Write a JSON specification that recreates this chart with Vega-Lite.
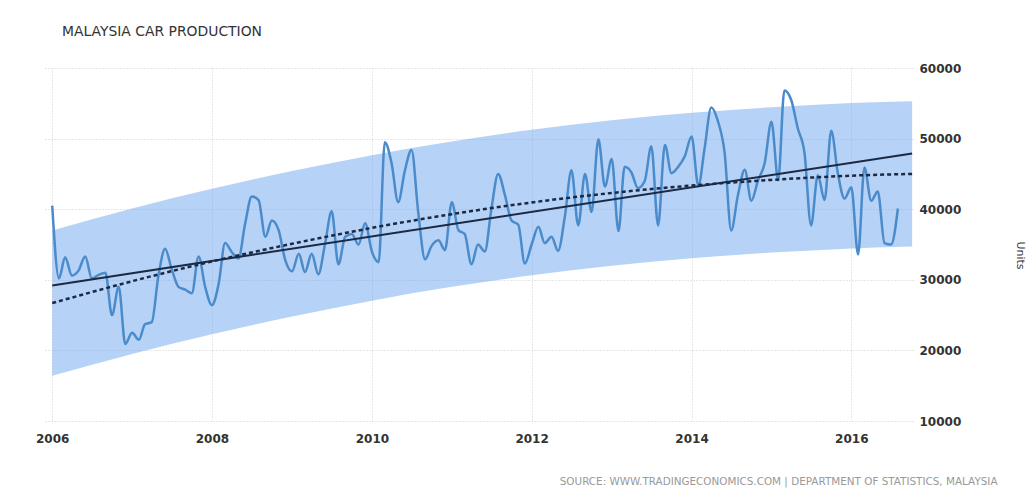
{
  "$schema": "https://vega.github.io/schema/vega-lite/v6.json",
  "width": 868,
  "height": 353,
  "autosize": {"type": "none"},
  "padding": {"left": 45, "top": 68, "right": 123, "bottom": 77},
  "background": "white",
  "title": {
    "text": "MALAYSIA CAR PRODUCTION",
    "anchor": "start",
    "frame": "group",
    "offset": 12,
    "baseline": "alphabetic",
    "dx": 17,
    "font": "DejaVu Sans",
    "fontSize": 13.9,
    "fontWeight": "normal",
    "color": "#333333"
  },
  "config": {
    "view": {"stroke": null},
    "axis": {
      "domain": false,
      "ticks": false,
      "gridColor": "#cfcfcf",
      "gridDash": [1, 2],
      "gridWidth": 1,
      "labelFont": "DejaVu Sans",
      "labelFontSize": 12,
      "labelFontWeight": "bold",
      "labelColor": "#333333",
      "titleFont": "DejaVu Sans"
    }
  },
  "datasets": {
    "production": [
      {"date": "2006-01-01", "value": 40500},
      {"date": "2006-02-01", "value": 30200},
      {"date": "2006-03-01", "value": 33200},
      {"date": "2006-04-01", "value": 30600},
      {"date": "2006-05-01", "value": 31300},
      {"date": "2006-06-01", "value": 33300},
      {"date": "2006-07-01", "value": 30200},
      {"date": "2006-08-01", "value": 30700},
      {"date": "2006-09-01", "value": 31000},
      {"date": "2006-10-01", "value": 25000},
      {"date": "2006-11-01", "value": 29000},
      {"date": "2006-12-01", "value": 20900},
      {"date": "2007-01-01", "value": 22500},
      {"date": "2007-02-01", "value": 21500},
      {"date": "2007-03-01", "value": 23700},
      {"date": "2007-04-01", "value": 24000},
      {"date": "2007-05-01", "value": 30500},
      {"date": "2007-06-01", "value": 34400},
      {"date": "2007-07-01", "value": 31500},
      {"date": "2007-08-01", "value": 29000},
      {"date": "2007-09-01", "value": 28600},
      {"date": "2007-10-01", "value": 28100},
      {"date": "2007-11-01", "value": 33300},
      {"date": "2007-12-01", "value": 29000},
      {"date": "2008-01-01", "value": 26400},
      {"date": "2008-02-01", "value": 29500},
      {"date": "2008-03-01", "value": 35200},
      {"date": "2008-04-01", "value": 33900},
      {"date": "2008-05-01", "value": 33000},
      {"date": "2008-06-01", "value": 38000},
      {"date": "2008-07-01", "value": 41800},
      {"date": "2008-08-01", "value": 41300},
      {"date": "2008-09-01", "value": 36100},
      {"date": "2008-10-01", "value": 38400},
      {"date": "2008-11-01", "value": 37000},
      {"date": "2008-12-01", "value": 32800},
      {"date": "2009-01-01", "value": 31200},
      {"date": "2009-02-01", "value": 33700},
      {"date": "2009-03-01", "value": 31100},
      {"date": "2009-04-01", "value": 33700},
      {"date": "2009-05-01", "value": 30800},
      {"date": "2009-06-01", "value": 35100},
      {"date": "2009-07-01", "value": 39700},
      {"date": "2009-08-01", "value": 32200},
      {"date": "2009-09-01", "value": 36100},
      {"date": "2009-10-01", "value": 36500},
      {"date": "2009-11-01", "value": 35000},
      {"date": "2009-12-01", "value": 38000},
      {"date": "2010-01-01", "value": 34000},
      {"date": "2010-02-01", "value": 32500},
      {"date": "2010-03-01", "value": 49500},
      {"date": "2010-04-01", "value": 46500},
      {"date": "2010-05-01", "value": 41000},
      {"date": "2010-06-01", "value": 45500},
      {"date": "2010-07-01", "value": 48400},
      {"date": "2010-08-01", "value": 39500},
      {"date": "2010-09-01", "value": 32900},
      {"date": "2010-10-01", "value": 34800},
      {"date": "2010-11-01", "value": 35600},
      {"date": "2010-12-01", "value": 34200},
      {"date": "2011-01-01", "value": 41000},
      {"date": "2011-02-01", "value": 37000},
      {"date": "2011-03-01", "value": 36500},
      {"date": "2011-04-01", "value": 32200},
      {"date": "2011-05-01", "value": 35000},
      {"date": "2011-06-01", "value": 34000},
      {"date": "2011-07-01", "value": 40000},
      {"date": "2011-08-01", "value": 45000},
      {"date": "2011-09-01", "value": 42000},
      {"date": "2011-10-01", "value": 38400},
      {"date": "2011-11-01", "value": 37800},
      {"date": "2011-12-01", "value": 32300},
      {"date": "2012-01-01", "value": 35000},
      {"date": "2012-02-01", "value": 37500},
      {"date": "2012-03-01", "value": 35200},
      {"date": "2012-04-01", "value": 36100},
      {"date": "2012-05-01", "value": 34100},
      {"date": "2012-06-01", "value": 39000},
      {"date": "2012-07-01", "value": 45500},
      {"date": "2012-08-01", "value": 37700},
      {"date": "2012-09-01", "value": 45000},
      {"date": "2012-10-01", "value": 39600},
      {"date": "2012-11-01", "value": 49900},
      {"date": "2012-12-01", "value": 43200},
      {"date": "2013-01-01", "value": 47100},
      {"date": "2013-02-01", "value": 36900},
      {"date": "2013-03-01", "value": 46000},
      {"date": "2013-04-01", "value": 45200},
      {"date": "2013-05-01", "value": 43000},
      {"date": "2013-06-01", "value": 44000},
      {"date": "2013-07-01", "value": 48900},
      {"date": "2013-08-01", "value": 37700},
      {"date": "2013-09-01", "value": 49100},
      {"date": "2013-10-01", "value": 45100},
      {"date": "2013-11-01", "value": 46000},
      {"date": "2013-12-01", "value": 47500},
      {"date": "2014-01-01", "value": 50300},
      {"date": "2014-02-01", "value": 43300},
      {"date": "2014-03-01", "value": 48500},
      {"date": "2014-04-01", "value": 54400},
      {"date": "2014-05-01", "value": 52500},
      {"date": "2014-06-01", "value": 48000},
      {"date": "2014-07-01", "value": 37000},
      {"date": "2014-08-01", "value": 42000},
      {"date": "2014-09-01", "value": 45600},
      {"date": "2014-10-01", "value": 41200},
      {"date": "2014-11-01", "value": 44100},
      {"date": "2014-12-01", "value": 46500},
      {"date": "2015-01-01", "value": 52400},
      {"date": "2015-02-01", "value": 44100},
      {"date": "2015-03-01", "value": 56800},
      {"date": "2015-04-01", "value": 55500},
      {"date": "2015-05-01", "value": 51500},
      {"date": "2015-06-01", "value": 48000},
      {"date": "2015-07-01", "value": 37700},
      {"date": "2015-08-01", "value": 44800},
      {"date": "2015-09-01", "value": 41300},
      {"date": "2015-10-01", "value": 51100},
      {"date": "2015-11-01", "value": 45000},
      {"date": "2015-12-01", "value": 41500},
      {"date": "2016-01-01", "value": 43100},
      {"date": "2016-02-01", "value": 33600},
      {"date": "2016-03-01", "value": 45900},
      {"date": "2016-04-01", "value": 41200},
      {"date": "2016-05-01", "value": 42500},
      {"date": "2016-06-01", "value": 35200},
      {"date": "2016-07-01", "value": 35000},
      {"date": "2016-08-01", "value": 40100}
    ],
    "trend": [
      {"date": "2006-01-01", "lower": 16400, "upper": 37000, "poly": 26700},
      {"date": "2007-01-01", "lower": 19500, "upper": 40100, "poly": 29800},
      {"date": "2008-01-01", "lower": 22300, "upper": 42900, "poly": 32600},
      {"date": "2009-01-01", "lower": 24800, "upper": 45400, "poly": 35100},
      {"date": "2010-01-01", "lower": 27050, "upper": 47650, "poly": 37350},
      {"date": "2011-01-01", "lower": 29000, "upper": 49600, "poly": 39300},
      {"date": "2012-01-01", "lower": 30650, "upper": 51250, "poly": 40950},
      {"date": "2013-01-01", "lower": 32000, "upper": 52600, "poly": 42300},
      {"date": "2014-01-01", "lower": 33050, "upper": 53650, "poly": 43350},
      {"date": "2015-01-01", "lower": 33850, "upper": 54450, "poly": 44150},
      {"date": "2016-01-01", "lower": 34450, "upper": 55050, "poly": 44750},
      {"date": "2016-10-05", "lower": 34700, "upper": 55300, "poly": 45000}
    ],
    "linear": [
      {"date": "2006-01-01", "value": 29200},
      {"date": "2016-10-05", "value": 47900}
    ]
  },
  "layer": [
    {
      "data": {"name": "trend"},
      "mark": {"type": "area", "interpolate": "monotone", "color": "#6ea6ed", "opacity": 0.5},
      "encoding": {
        "x": {
          "field": "date",
          "type": "temporal",
          "title": "SOURCE: WWW.TRADINGECONOMICS.COM | DEPARTMENT OF STATISTICS, MALAYSIA",
          "scale": {
            "type": "utc",
            "domain": [
              {"year": 2005, "month": 11, "date": 29, "utc": true},
              {"year": 2016, "month": 10, "date": 9, "utc": true}
            ]
          },
          "axis": {
            "orient": "bottom",
            "values": [
              {"year": 2006, "month": 1, "date": 1, "utc": true},
              {"year": 2008, "month": 1, "date": 1, "utc": true},
              {"year": 2010, "month": 1, "date": 1, "utc": true},
              {"year": 2012, "month": 1, "date": 1, "utc": true},
              {"year": 2014, "month": 1, "date": 1, "utc": true},
              {"year": 2016, "month": 1, "date": 1, "utc": true}
            ],
            "format": "%Y",
            "labelPadding": 12,
            "titleX": 952,
            "titleY": 60,
            "titleAlign": "right",
            "titleBaseline": "middle",
            "titleFontSize": 10.4,
            "titleFontWeight": "normal",
            "titleColor": "#999999"
          }
        },
        "y": {
          "field": "lower",
          "type": "quantitative",
          "title": "Units",
          "scale": {"domain": [10000, 60000], "nice": false, "zero": false},
          "axis": {
            "orient": "right",
            "values": [10000, 20000, 30000, 40000, 50000, 60000],
            "format": "d",
            "labelAlign": "left",
            "labelPadding": 6,
            "titleAngle": 90,
            "titleX": 106,
            "titleY": 187,
            "titleAlign": "center",
            "titleBaseline": "middle",
            "titleFontSize": 11,
            "titleFontWeight": "normal",
            "titleColor": "#333333"
          }
        },
        "y2": {"field": "upper"}
      }
    },
    {
      "data": {"name": "production"},
      "mark": {"type": "line", "interpolate": "monotone", "color": "#4a8bcb", "strokeWidth": 2.5},
      "encoding": {
        "x": {"field": "date", "type": "temporal", "title": "SOURCE: WWW.TRADINGECONOMICS.COM | DEPARTMENT OF STATISTICS, MALAYSIA"},
        "y": {"field": "value", "type": "quantitative", "title": "Units"}
      }
    },
    {
      "data": {"name": "trend"},
      "mark": {"type": "line", "interpolate": "monotone", "color": "#1b2a44", "strokeWidth": 2.5, "strokeDash": [4, 3]},
      "encoding": {
        "x": {"field": "date", "type": "temporal", "title": "SOURCE: WWW.TRADINGECONOMICS.COM | DEPARTMENT OF STATISTICS, MALAYSIA"},
        "y": {"field": "poly", "type": "quantitative", "title": "Units"}
      }
    },
    {
      "data": {"name": "linear"},
      "mark": {"type": "line", "color": "#1b2a44", "strokeWidth": 2},
      "encoding": {
        "x": {"field": "date", "type": "temporal", "title": "SOURCE: WWW.TRADINGECONOMICS.COM | DEPARTMENT OF STATISTICS, MALAYSIA"},
        "y": {"field": "value", "type": "quantitative", "title": "Units"}
      }
    }
  ]
}
